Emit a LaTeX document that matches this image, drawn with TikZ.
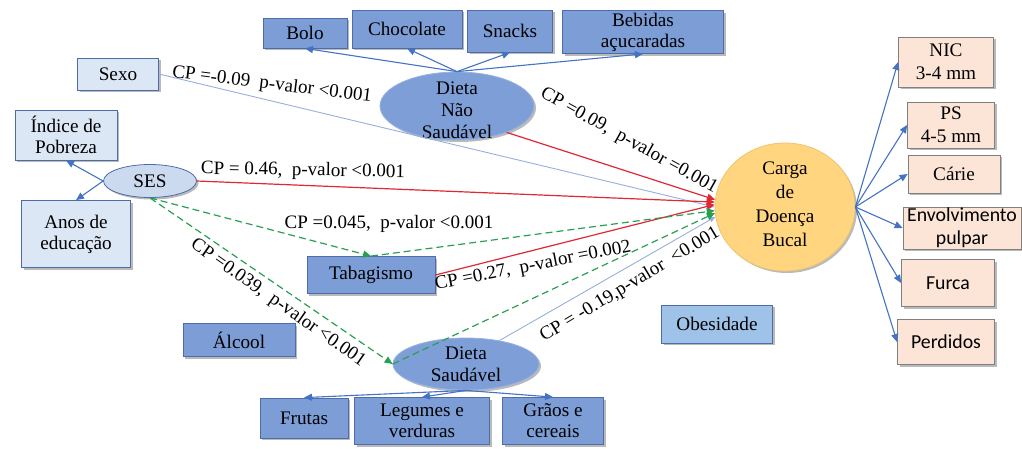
\documentclass[tikz,border=0pt]{standalone}
\usepackage{fontspec}
\setmainfont{Liberation Serif}
\newfontfamily\calib{Carlito}
\usetikzlibrary{arrows.meta,shapes.geometric,shadows}
\definecolor{boxblue}{RGB}{124,157,214}
\definecolor{boxborder}{RGB}{78,108,168}
\definecolor{lightfill}{RGB}{220,231,246}
\definecolor{obesfill}{RGB}{158,194,232}
\definecolor{sesfill}{RGB}{204,218,240}
\definecolor{ellfill}{RGB}{126,158,215}
\definecolor{ellborder}{RGB}{150,178,224}
\definecolor{cargafill}{RGB}{255,213,128}
\definecolor{cargaborder}{RGB}{240,196,110}
\definecolor{peach}{RGB}{252,229,214}
\definecolor{peachborder}{RGB}{128,128,128}
\definecolor{linkblue}{RGB}{68,114,196}
\definecolor{thinblue}{RGB}{150,175,222}
\definecolor{redline}{RGB}{222,40,52}
\definecolor{greenline}{RGB}{40,160,82}
\begin{document}
\begin{tikzpicture}[x=1pt,y=-1pt,
  font=\fontsize{19.2}{21}\selectfont,
  shad/.style={drop shadow={shadow xshift=2pt,shadow yshift=-2pt,fill=black!60,opacity=0.45}},
  sz/.style 2 args={minimum width=#1,minimum height=#2},
  base/.style={draw,line width=0.8pt,inner sep=1pt,align=center,shad},
  dbox/.style={base,fill=boxblue,draw=boxborder},
  lbox/.style={base,fill=lightfill,draw=boxborder},
  obox/.style={base,fill=obesfill,draw=boxborder},
  pbox/.style={base,fill=peach,draw=peachborder,font=\fontsize{19.2}{23}\selectfont},
  cbox/.style={pbox,font=\calib\fontsize{19.8}{23}\selectfont},
  ellb/.style={ellipse,inner sep=0pt,line width=0.8pt,shad},
  link/.style={draw=linkblue,line width=1.1pt,-{Triangle[length=8pt,width=7pt]}},
  thin/.style={draw=thinblue,line width=0.9pt,-{Triangle[length=6pt,width=5pt]}},
  redarr/.style={draw=redline,line width=1.2pt,-{Triangle[length=8pt,width=7pt]}},
  greenarr/.style={draw=greenline,line width=1.2pt,dash pattern=on 7pt off 4pt,-{Triangle[length=8pt,width=7pt]}},
  cplabel/.style={inner sep=0pt,font=\fontsize{19}{20}\selectfont}
]
\useasboundingbox (0,0) rectangle (1022,448);

% top boxes
\node[dbox,sz={84}{30}] (Bolo) at (305,33) {Bolo};
\node[dbox,sz={110}{38}] (Choc) at (407,29) {Chocolate};
\node[dbox,sz={85}{42}] (Snacks) at (510,31) {Snacks};
\node[dbox,sz={161}{43}] (Beb) at (643,32) {Bebidas\\açucaradas};

% left
\node[lbox,sz={81}{32}] (Sexo) at (118,74) {Sexo};
\node[lbox,sz={102}{50}] (Indice) at (66,135) {Índice de\\Pobreza};
\node[lbox,sz={109}{67}] (Anos) at (76,234) {Anos de\\educação};
\node[ellb,draw=boxborder,fill=sesfill,sz={93}{33}] (SES) at (150,181) {SES};

% ellipses
\node[ellb,draw=ellborder,fill=ellfill,sz={154}{68},
  label={[align=center,yshift=-4pt,font=\fontsize{19.2}{22}\selectfont]center:Dieta\\Não\\Saudável}] (DietaN) at (457,106) {};
\node[ellb,draw=ellborder,fill=ellfill,sz={146}{52},
  label={[align=center,font=\fontsize{19.2}{22}\selectfont]center:Dieta\\Saudável}] (DietaS) at (466,364) {};
\node[ellb,draw=cargaborder,fill=cargafill,sz={140}{128},
  label={[align=center,yshift=3pt,font=\fontsize{19.2}{24}\selectfont]center:Carga\\de\\Doença\\Bucal}] (Carga) at (785,207) {};

% middle boxes
\node[dbox,sz={128}{37}] (Tab) at (371,275) {Tabagismo};
\node[dbox,sz={112}{33}] (Alcool) at (239,340) {Álcool};
\node[obox,sz={111}{38}] (Obes) at (717,324) {Obesidade};

% bottom boxes
\node[dbox,sz={88}{40}] (Frutas) at (304,418) {Frutas};
\node[dbox,sz={135}{47}] (Legumes) at (422,421) {Legumes e\\verduras};
\node[dbox,sz={101}{47}] (Graos) at (553,421) {Grãos e\\cereais};

% right boxes
\node[pbox,sz={95}{50}] (NIC) at (946,62) {NIC\\3-4 mm};
\node[pbox,sz={87}{46}] (PS) at (951,125) {PS\\4-5 mm};
\node[pbox,sz={92}{38}] (Carie) at (954,174) {Cárie};
\node[cbox,sz={118}{40}] (Envol) at (962,228) {Envolvimento\\pulpar};
\node[cbox,sz={93}{47}] (Furca) at (948,283) {Furca};
\node[cbox,sz={97}{45}] (Perd) at (946,342) {Perdidos};

% blue links
\draw[link] (DietaN.north) -- (Bolo.south);
\draw[link] (DietaN.north) -- (Choc.south);
\draw[link] (DietaN.north) -- (Snacks.south);
\draw[link] (DietaN.north) -- (Beb.south);
\draw[link] (SES.west) -- (Indice.south);
\draw[link] (SES.west) -- (Anos.north);
\draw[link] (DietaS.south) -- (Frutas.north);
\draw[link] (DietaS.south) -- (Legumes.north);
\draw[link] (DietaS.south) -- (Graos.north);
\foreach \t in {NIC,PS,Carie,Envol,Furca,Perd}
  \draw[link] (Carga.east) -- (\t.west);

% thin blue paths
\draw[thin] (Sexo.east) -- (Carga.west);
\draw[thin] (DietaS.35) -- (Carga.188);

% red paths
\draw[redarr] (DietaN.-28) -- (Carga.174);
\draw[redarr] (SES.east) -- (Carga.176);
\draw[redarr] (Tab.east) -- (Carga.178);

% green dashed paths
\draw[greenarr] (SES.south) -- (Tab.north);
\draw[greenarr] (SES.south) -- (DietaS.west);
\draw[greenarr] (Tab.north) -- (Carga.183);
\draw[greenarr] (DietaS.west) -- (Carga.185);

% labels
\node[cplabel,rotate=-7] (l1) at (272,85) {CP =-0.09\ \ p-valor <0.001};
\node[cplabel,rotate=-1] (l2) at (303,171) {CP = 0.46,\ \ p-valor <0.001};
\node[cplabel,rotate=-29] (l3) at (629,141) {CP =0.09,\ \ p-valor =0.001};
\node[cplabel] (l4) at (389,224) {CP =0.045,\ \ p-valor <0.001};
\node[cplabel,rotate=-35] (l5) at (278,303) {CP =0.039,\ \ p-valor <0.001};
\node[cplabel,rotate=11] (l6) at (533,266) {CP =0.27,\ \ p-valor =0.002};
\node[cplabel,rotate=31] (l7) at (630,285) {CP = -0.19,p-valor\ \ <0.001};
\end{tikzpicture}
\end{document}
